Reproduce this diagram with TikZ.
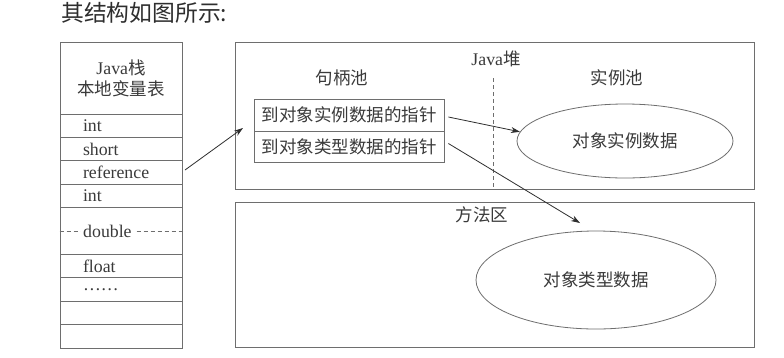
\documentclass[tikz,border=0pt]{standalone}
\usepackage{fontspec}
\setmainfont{Liberation Serif}
\newfontfamily\cjk{Noto Sans CJK SC}
\usetikzlibrary{arrows.meta,shapes.geometric}
\definecolor{ln}{HTML}{6E6E6E}
\definecolor{tx}{HTML}{3A3A3A}
\definecolor{ar}{HTML}{2E2E2E}
\begin{document}
\begin{tikzpicture}[x=1pt,y=-1pt,
  lbl/.style={text=tx,inner sep=0pt,font=\fontsize{17.8}{21}\selectfont},
  clbl/.style={lbl,font=\cjk\fontsize{17.5}{21}\selectfont},
  box/.style={draw=ln,line width=0.8pt,inner sep=0pt},
  row/.style={box,minimum width=122pt,minimum height=23.33pt,text width=76pt,align=left,text=tx,font=\fontsize{17.8}{21}\selectfont},
  arr/.style={draw=ar,line width=0.8pt,-{Stealth[length=9pt,width=6pt]}},
  dsh/.style={draw=ln,line width=0.8pt,dash pattern=on 4pt off 3pt}]
\useasboundingbox (0,0) rectangle (784,357);
\fill[white] (0,0) rectangle (784,357);
% title
\node[anchor=west,inner sep=0pt,text=black!82,font=\cjk\fontsize{22.8}{24}\selectfont] (title) at (61,13) {其结构如图所示:};
% stack
\node[box,minimum width=122pt,minimum height=72pt,align=center,text=tx,font=\fontsize{17.8}{21}\selectfont] (hdr) at (121,78) {Java{\cjk\fontsize{17.5}{21}\selectfont 栈}\\{\cjk\fontsize{17.5}{21}\selectfont 本地变量表}};
\node[row] (r1) at (121,125.8) {int};
\node[row] (r2) at (121,149.2) {short};
\node[row] (r3) at (121,172.5) {reference};
\node[row] (r4) at (121,195.8) {int};
\node[box,minimum width=122pt,minimum height=46.67pt] (r5) at (121,231) {};
\draw[dsh] (r5.west) -- (r5.east);
\node[lbl,fill=white,anchor=west,inner xsep=2pt] (dbl) at (81,231) {double};
\node[row] (r6) at (121,266) {float};
\node[row] (r7) at (121,289.3) {……};
\node[row] (r8) at (121,312.7) {};
\node[row] (r9) at (121,336.3) {};
% heap
\node[box,minimum width=519pt,minimum height=147pt] (heap) at (494.5,115.5) {};
\node[lbl] (heapl) at (496,59) {Java{\cjk\fontsize{17.5}{21}\selectfont 堆}};
\coordinate (dtop) at (493,78);
\draw[dsh] (dtop) -- (dtop |- heap.south);
\node[clbl] (hpool) at (342,78) {句柄池};
\node[clbl] (ipool) at (617,78) {实例池};
\node[box,minimum width=190pt,minimum height=32pt,clbl] (h1) at (349,115) {到对象实例数据的指针};
\node[box,minimum width=190pt,minimum height=31pt,clbl] (h2) at (349,146.5) {到对象类型数据的指针};
\node[box,ellipse,minimum width=216pt,minimum height=74pt,clbl] (e1) at (625,141) {对象实例数据};
% method area
\node[box,minimum width=519pt,minimum height=145pt] (meth) at (494.5,274.5) {};
\node[clbl] (methl) at (482,215) {方法区};
\node[box,ellipse,minimum width=240pt,minimum height=98pt,clbl] (e2) at (596,280) {对象类型数据};
% arrows
\coordinate (a0s) at (185,170);
\coordinate (a0e) at (243,128);
\coordinate (t2) at (580,223);
\draw[arr] (a0s) -- (a0e);
\draw[arr] ([xshift=4pt,yshift=-2pt]h1.east) -- (e1.175);
\draw[arr] ([xshift=4pt,yshift=3pt]h2.east) -- (t2);
\end{tikzpicture}
\end{document}
